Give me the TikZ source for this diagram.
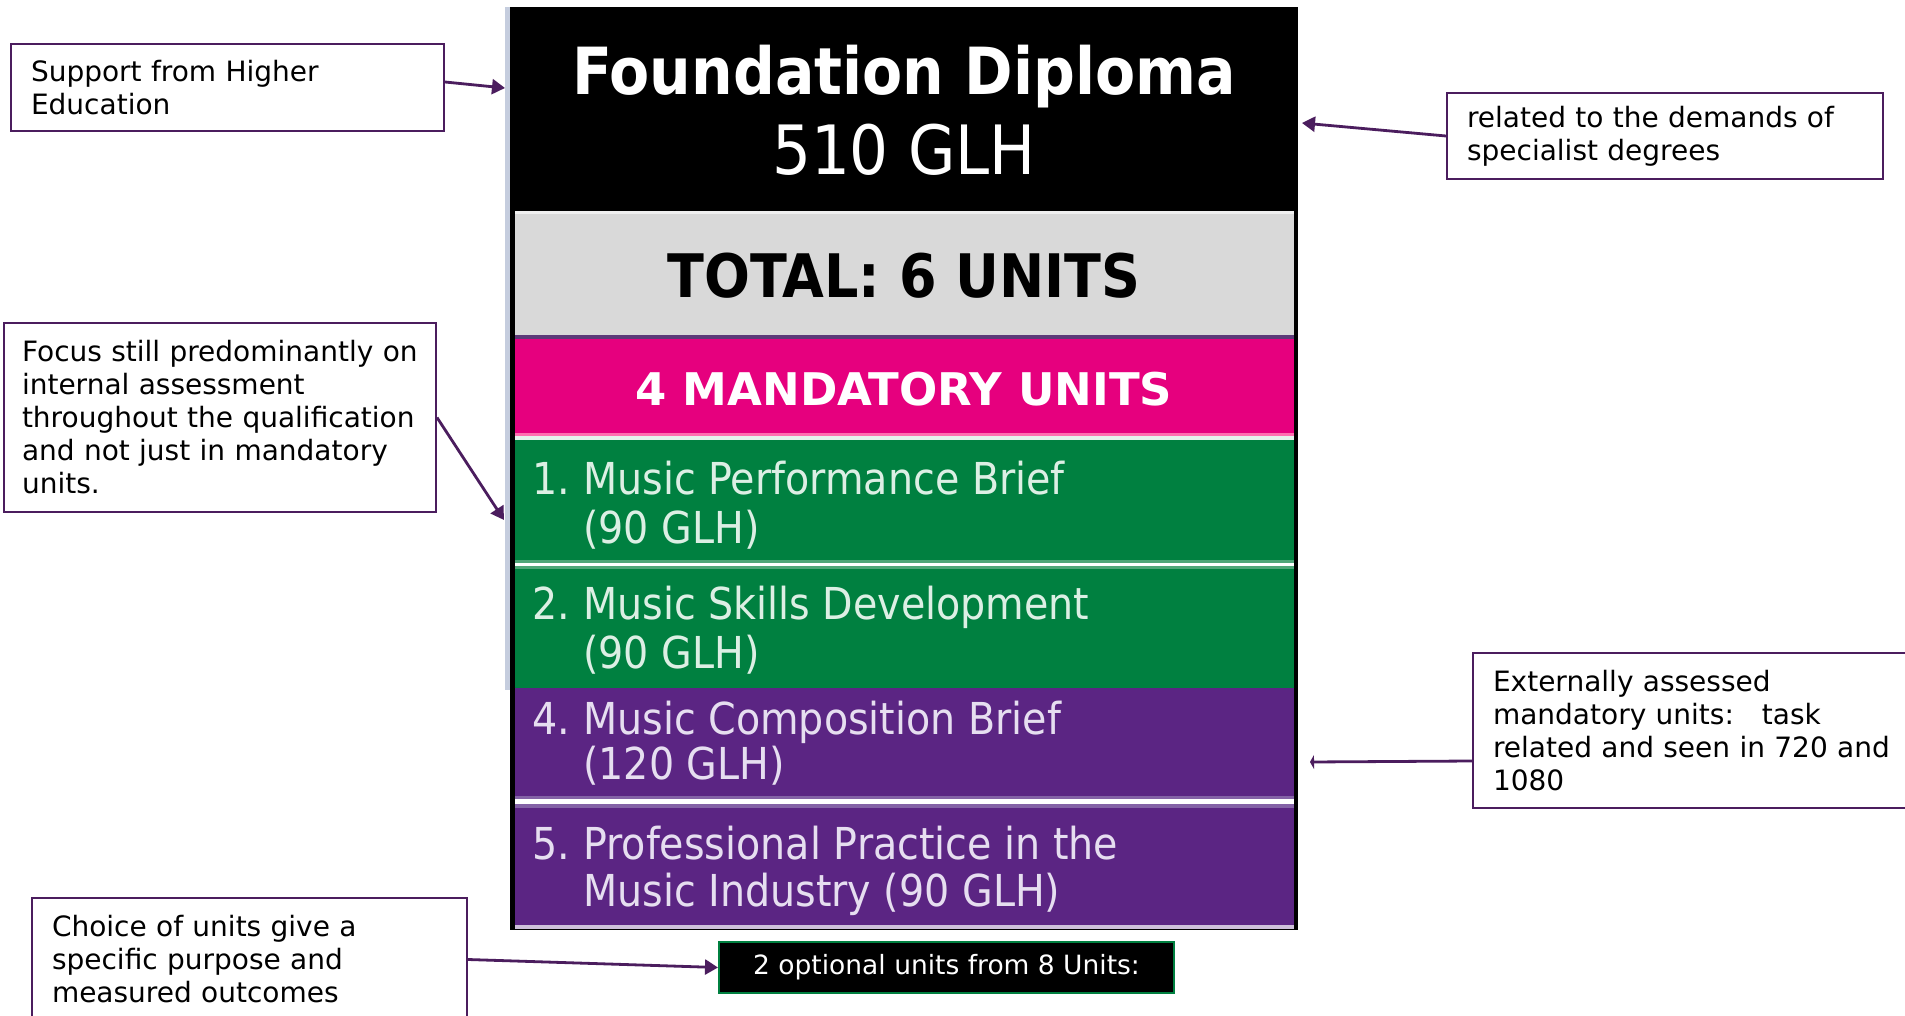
\documentclass[tikz,border=0pt]{standalone}
\usepackage{fontspec}
\setmainfont{DejaVu Sans}
\newfontfamily\condfont{DejaVu Sans}[FakeStretch=0.9]
\usetikzlibrary{arrows.meta,calc}
\definecolor{annot}{HTML}{4B1D5E}
\definecolor{pinkrow}{HTML}{E6007E}
\definecolor{pinkedge}{HTML}{FF6EB0}
\definecolor{greenrow}{HTML}{008040}
\definecolor{greenedge}{HTML}{4FA679}
\definecolor{purplerow}{HTML}{5B2583}
\definecolor{purpleedge}{HTML}{8462A6}
\definecolor{greyrow}{HTML}{D9D9D9}
\definecolor{greysep}{HTML}{5C3A78}
\definecolor{greentext}{HTML}{DCEFE4}
\definecolor{purpletext}{HTML}{E6DEF0}
\definecolor{sideline}{HTML}{C5CDDE}
\begin{document}
\begin{tikzpicture}[x=1pt,y=-1pt,
  note/.style={draw=annot, line width=2pt, fill=white, align=left, inner xsep=20pt, inner ysep=0pt, font=\fontsize{28}{33}\selectfont},
  link/.style={draw=annot, line width=2.8pt, -{Triangle[length=13pt,width=15pt]}},
  rowbox/.style={inner sep=0pt, outer sep=0pt, anchor=north west, minimum width=779pt},
  unittext/.style={anchor=base west, inner sep=0pt, font=\condfont\fontsize{44}{49}\selectfont},
  headtext/.style={anchor=base, inner sep=0pt},
]
\fill[white] (0,0) rectangle (1905,1016);
\useasboundingbox (0,0) rectangle (1905,1016);

% column frame
\fill[black] (510,7) rectangle (1298,930);
\fill[sideline] (505,7) rectangle (510,690);

% header
\node[inner sep=0pt, anchor=north west, minimum width=788pt, minimum height=202pt, fill=black] (fd) at (510,7) {};
\node[headtext, text=white, font=\condfont\bfseries\fontsize{65}{78}\selectfont] (fdt) at (904,95) {Foundation Diploma};
\node[headtext, text=white, font=\condfont\fontsize{68}{80}\selectfont] (glh) at (904,175) {510 GLH};

% total
\node[rowbox, fill=greyrow, minimum height=124pt] (tot) at (515,211) {};
\fill[greyrow!40!white] (515,211) rectangle (1294,214);
\node[headtext, font=\condfont\bfseries\fontsize{60}{70}\selectfont] (tott) at (904,297) {TOTAL: 6 UNITS};
\fill[greysep] (515,335) rectangle (1294,339);

% mandatory
\node[rowbox, fill=pinkrow, minimum height=94pt] (man) at (515,339) {};
\node[headtext, text=white, font=\bfseries\fontsize{45}{54}\selectfont] (mant) at (904,405) {4 MANDATORY UNITS};
\fill[pinkedge] (515,433) rectangle (1294,436);
\fill[white!90!greenrow] (515,436) rectangle (1294,440);

% unit 1
\node[rowbox, fill=greenrow, minimum height=120pt] (u1) at (515,440) {};
\fill[greenedge] (515,560) rectangle (1294,563);
\fill[white] (515,563) rectangle (1294,566);
\fill[greenedge] (515,566) rectangle (1294,569);
\node[unittext, text=greentext] (u1a) at (532,494) {\makebox[51pt][l]{1.}Music Performance Brief};
\node[unittext, text=greentext] (u1b) at (583,543) {(90 GLH)};

% unit 2
\node[rowbox, fill=greenrow, minimum height=119pt] (u2) at (515,569) {};
\node[unittext, text=greentext] (u2a) at (532,619) {\makebox[51pt][l]{2.}Music Skills Development};
\node[unittext, text=greentext] (u2b) at (583,668) {(90 GLH)};

% unit 4
\node[rowbox, fill=purplerow, minimum height=108pt] (u4) at (515,688) {};
\fill[purpleedge] (515,796) rectangle (1294,799);
\fill[white] (515,799) rectangle (1294,804);
\fill[purpleedge] (515,804) rectangle (1294,808);
\node[unittext, text=purpletext] (u4a) at (532,734) {\makebox[51pt][l]{4.}Music Composition Brief};
\node[unittext, text=purpletext] (u4b) at (583,779) {(120 GLH)};

% unit 5
\node[rowbox, fill=purplerow, minimum height=117pt] (u5) at (515,808) {};
\fill[purpleedge!40!white] (515,925) rectangle (1294,929);
\node[unittext, text=purpletext] (u5a) at (532,859) {\makebox[51pt][l]{5.}Professional Practice in the};
\node[unittext, text=purpletext] (u5b) at (583,906) {Music Industry (90 GLH)};

% optional units
\node[draw=greenrow, line width=2pt, fill=black, text=white, minimum width=455pt, minimum height=51pt, inner sep=0pt, font=\fontsize{26.5}{32}\selectfont] (opt) at (946.5,967.5) {2 optional units from 8 Units:};

% annotations
\node[note, minimum width=433pt, minimum height=87pt, text width=393pt] (sup) at (227.5,87.5) {Support from Higher\\Education};
\node[note, inner xsep=18pt, minimum width=432pt, minimum height=189pt, text width=396pt] (foc) at (220,417.5) {Focus still predominantly on\\internal assessment\\throughout the qualification\\and not just in mandatory\\units.};
\node[note, minimum width=436pt, minimum height=86pt, text width=396pt] (rel) at (1665,136) {related to the demands of\\specialist degrees};
\node[note, minimum width=452pt, minimum height=155pt, text width=412pt] (ext) at (1699,730.5) {Externally assessed\\mandatory units:\ \ \ task\\related and seen in 720 and\\1080};
\node[note, minimum width=435pt, minimum height=123pt, text width=395pt] (cho) at (249.5,959.5) {Choice of units give a\\specific purpose and\\measured outcomes};

% connectors
\coordinate (supTip) at (505,88);
\coordinate (focTip) at (504,520);
\coordinate (relTip) at (1302,123);
\coordinate (extTip) at (1310,762);
\draw[link] ([yshift=5.5pt]sup.east) -- (supTip);
\draw[link] (foc.east) -- (focTip);
\draw[link] (rel.west) -- (relTip);
\draw[draw=annot, line width=2.8pt, -{Triangle[length=4pt,width=14pt]}] ([yshift=-30.5pt]ext.west) -- (extTip);
\draw[link] (cho.east) -- (opt.west);
\end{tikzpicture}
\end{document}
